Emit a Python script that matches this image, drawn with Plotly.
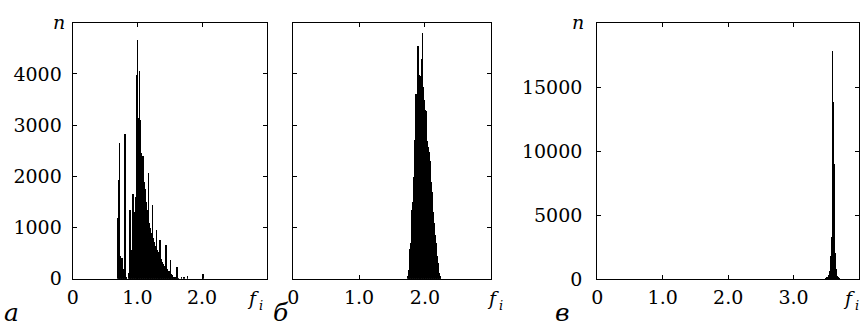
import plotly.graph_objects as go

# ---------------- data ----------------
# panel a: histogram bins (f_i) and counts (n)
f_a = [0.70, 0.71, 0.72, 0.73, 0.74, 0.75, 0.76, 0.77, 0.78, 0.79, 0.80, 0.81, 0.82, 0.83,
       0.87, 0.88, 0.89, 0.90, 0.91, 0.92, 0.93, 0.94, 0.95, 0.96, 0.97, 0.98, 0.99,
       1.00, 1.01, 1.02, 1.03, 1.04, 1.05, 1.06, 1.07, 1.08, 1.09, 1.10, 1.11, 1.12,
       1.13, 1.14, 1.15, 1.16, 1.17, 1.18, 1.19, 1.20, 1.21, 1.22, 1.23, 1.24, 1.25,
       1.26, 1.27, 1.28, 1.29, 1.30, 1.31, 1.32, 1.33, 1.34, 1.35, 1.36, 1.37, 1.38,
       1.39, 1.40, 1.41, 1.42, 1.43, 1.44, 1.45, 1.46, 1.47, 1.48, 1.49, 1.50, 1.51,
       1.52, 1.53, 1.54, 1.55, 1.56, 1.57, 1.58, 1.59, 1.61, 1.62, 1.68, 1.72, 1.77, 2.01]
n_a = [1200, 1930, 2660, 450, 350, 300, 420, 200, 60, 30, 2830, 150, 40, 10,
       120, 1340, 400, 480, 560, 700, 1660, 850, 950, 1300, 1600, 1800, 3980,
       4660, 3140, 3140, 4070, 3100, 2460, 2200, 2050, 2400, 2000, 1900, 1750, 1600,
       1500, 1350, 1250, 1200, 2070, 1100, 1000, 950, 900, 880, 1440, 800, 720,
       680, 640, 600, 950, 560, 520, 500, 480, 440, 760, 400, 360, 330,
       300, 280, 260, 240, 220, 660, 200, 180, 160, 150, 130, 120, 380,
       100, 80, 60, 40, 30, 20, 20, 15, 235, 10, 40, 40, 50, 90]

# panel b
f_b = [1.75, 1.76, 1.77, 1.78, 1.79, 1.80, 1.81, 1.82, 1.83, 1.84, 1.85, 1.86, 1.87,
       1.88, 1.89, 1.90, 1.91, 1.92, 1.93, 1.94, 1.95, 1.96, 1.97, 1.98, 1.99, 2.00,
       2.01, 2.02, 2.03, 2.04, 2.05, 2.06, 2.07, 2.08, 2.09, 2.10, 2.11, 2.12, 2.13,
       2.14, 2.15, 2.16, 2.17, 2.18, 2.19, 2.20, 2.21, 2.22, 2.23, 2.24]
n_b = [50, 170, 300, 590, 700, 1000, 1340, 1500, 1540, 2000, 2710, 3100, 3620,
       3500, 4000, 4560, 3980, 3800, 3900, 3960, 3700, 4300, 4800, 3750, 3500, 3450,
       3300, 3290, 2900, 2700, 2580, 2500, 2480, 2300, 2030, 1900, 1700, 1540, 1300,
       1100, 1030, 850, 700, 640, 450, 320, 200, 120, 60, 20]

# panel c
f_c = [3.50, 3.51, 3.52, 3.53, 3.54, 3.55, 3.56, 3.57, 3.58, 3.59, 3.60, 3.61, 3.62,
       3.63, 3.64, 3.65, 3.66, 3.67, 3.68, 3.69, 3.70]
n_c = [30, 50, 80, 120, 200, 350, 600, 1000, 1800, 3300, 17800, 13800, 9000,
       3000, 2000, 800, 400, 200, 100, 50, 20]

# panel letters (Cyrillic a, be, ve)
panel_letters = ["\u0430", "\u0431", "\u0432"]

ticks_x_ab = [0, 1, 2]
ticks_x_c = [0, 1, 2, 3]
ticks_y_ab = [0, 1000, 2000, 3000, 4000]
ticks_y_c = [0, 5000, 10000, 15000]

# ---------------- figure ----------------
W, H = 862, 329
def px(x):
    return x / W
def py(y):
    return 1 - y / H

SERIF = "DejaVu Serif"
fig = go.Figure()
for xs, ys, xa, ya in [(f_a, n_a, "x", "y"), (f_b, n_b, "x2", "y2"), (f_c, n_c, "x3", "y3")]:
    fig.add_trace(go.Bar(x=xs, y=ys, xaxis=xa, yaxis=ya, width=0.01,
                         marker=dict(color="black", line=dict(width=0))))

common = dict(showline=True, linecolor="black", linewidth=1.3, mirror="ticks",
              ticks="inside", ticklen=4, tickcolor="black",
              showgrid=False, zeroline=False, automargin=False,
              tickfont=dict(family=SERIF, size=19, color="black"))
xfmt = dict(tickformat=".1f", labelalias={"0.0": "0"}, ticklabelstandoff=1)
yfmt = dict(tickformat="d")

yd_ab = [py(278.7), py(22.7)]
yd_c = [py(279.3), py(23.3)]

fig.update_layout(
    width=W, height=H,
    margin=dict(l=0, r=0, t=0, b=0),
    paper_bgcolor="white", plot_bgcolor="white",
    bargap=0, showlegend=False,
    font=dict(family=SERIF, color="black"),
    xaxis=dict(domain=[px(72.7), px(266.7)], range=[0, 3], tickvals=ticks_x_ab,
               anchor="y", **xfmt, **common),
    yaxis=dict(domain=yd_ab, range=[0, 5000], tickvals=ticks_y_ab,
               anchor="x", ticklabelstandoff=6, **yfmt, **common),
    xaxis2=dict(domain=[px(293.3), px(490.7)], range=[0, 3], tickvals=ticks_x_ab,
                anchor="y2", **xfmt, **common),
    yaxis2=dict(domain=yd_ab, range=[0, 5000], tickvals=ticks_y_ab,
                showticklabels=False, anchor="x2", **common),
    xaxis3=dict(domain=[px(597.3), px(859)], range=[0, 4], tickvals=ticks_x_c,
                anchor="y3", **xfmt, **common),
    yaxis3=dict(domain=yd_c, range=[0, 20000], tickvals=ticks_y_c,
                anchor="x3", ticklabelstandoff=10, **yfmt, **common),
)

def note(text, x, y, size=19, yanchor="middle"):
    fig.add_annotation(text=text, x=px(x), y=py(y), xref="paper", yref="paper",
                       showarrow=False, xanchor="center", yanchor=yanchor,
                       font=dict(family=SERIF, size=size, color="black"))

note("<i>n</i>", 58.5, 22)
note("<i>n</i>", 577.5, 22)
for fx in (253, 493, 849):
    note("<i>f</i>", fx, 298)
    note("<i>i</i>", fx + 7.5, 305, 13)
for lx, letter in zip((11, 281, 562), panel_letters):
    note("<i>" + letter + "</i>", lx, 329, 25, "bottom")

fig.write_html("out.html")
